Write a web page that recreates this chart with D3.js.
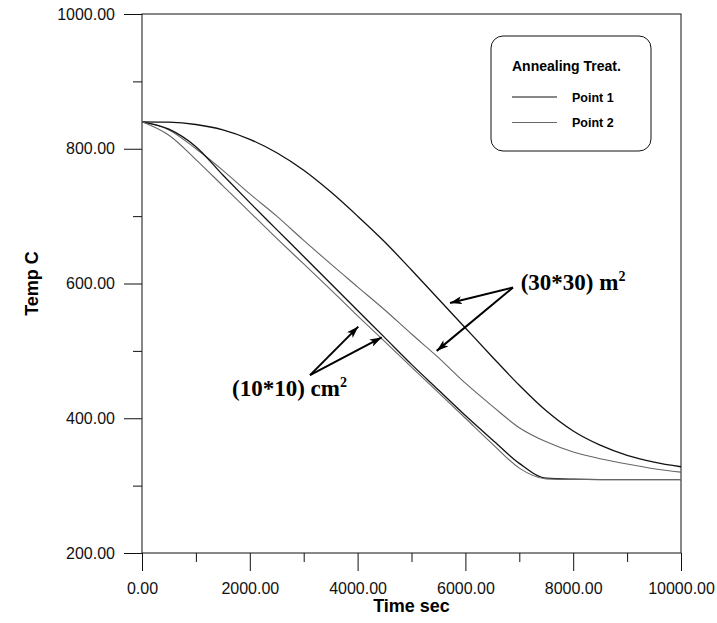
<!DOCTYPE html>
<html>
<head>
<meta charset="utf-8">
<script src="https://cdn.jsdelivr.net/npm/d3@7"></script>
<style>
  body { margin: 0; background: #fff; }
  text { font-family: "Liberation Sans", Arial, sans-serif; }
</style>
</head>
<body>
<div id="chart"></div>
<script>
// time in seconds, temperature in C
var times = [0, 500, 1000, 1500, 2000, 2500, 3000, 3500, 4000, 4500, 5000,
             5500, 6000, 6500, 7000, 7500, 8000, 8500, 9000, 9500, 10000];
// (30*30) m2 block
var big_p1 = [840, 839.5, 836, 828, 814, 794, 768, 736, 700, 662, 620,
              577, 534, 491, 449, 411, 381, 360, 345, 335, 328];
var big_p2 = [840, 828, 800, 768, 733, 700, 664, 629, 595, 561, 525,
              490, 452, 418, 386, 365, 350, 340, 332, 325, 320];
// (10*10) cm2 block
var small_p1 = [840, 829, 803, 761, 720, 680, 640, 600, 560, 520, 480,
                442, 404, 368, 333, 311, 309.5, 309, 309, 309, 309];
var small_p2 = [840, 820, 784, 745, 706, 667, 629, 591, 552, 514, 476,
                438, 400, 362, 326, 310, 309, 309, 309, 309, 309];

var xTicks = [0, 2000, 4000, 6000, 8000, 10000];
var yTicks = [200, 400, 600, 800, 1000];
var legendNames = ["Point 1", "Point 2"];

var width = 717, height = 623;
var plotL = 142, plotR = 681, plotT = 14, plotB = 553;

var x = d3.scaleLinear().domain([0, 10000]).range([plotL, plotR]);
var y = d3.scaleLinear().domain([200, 1000]).range([plotB, plotT]);

var svg = d3.select("#chart").append("svg")
    .attr("width", width).attr("height", height);

svg.append("rect").attr("width", width).attr("height", height).attr("fill", "#fff");

// frame
svg.append("rect")
    .attr("x", plotL).attr("y", plotT)
    .attr("width", plotR - plotL).attr("height", plotB - plotT)
    .attr("fill", "none").attr("stroke", "#111").attr("stroke-width", 1);

var fmt = d3.format(".2f");

// y axis, major + minor ticks
svg.append("g").attr("transform", "translate(" + plotL + ",0)")
    .call(d3.axisLeft(y).tickValues(yTicks).tickSize(18).tickPadding(9).tickFormat(fmt));
svg.append("g").attr("transform", "translate(" + plotL + ",0)")
    .call(d3.axisLeft(y).tickValues([300, 500, 700, 900]).tickSize(9).tickFormat(""));

svg.append("g").attr("transform", "translate(0," + plotB + ")")
    .call(d3.axisBottom(x).tickValues(xTicks).tickSize(18).tickPadding(12).tickFormat(fmt));
svg.append("g").attr("transform", "translate(0," + plotB + ")")
    .call(d3.axisBottom(x).tickValues([1000, 3000, 5000, 7000, 9000]).tickSize(9).tickFormat(""));

svg.selectAll(".domain").remove();
svg.selectAll(".tick line").attr("stroke", "#111");
svg.selectAll(".tick text")
    .attr("fill", "#111")
    .style("font-family", "'Liberation Sans', Arial, sans-serif")
    .style("font-size", "16px");

// axis titles
svg.append("text")
    .attr("x", (plotL + plotR) / 2).attr("y", 612)
    .attr("text-anchor", "middle")
    .style("font-weight", "bold").style("font-size", "18px")
    .text("Time sec");
svg.append("text")
    .attr("transform", "translate(38," + (plotT + plotB) / 2 + ") rotate(-90)")
    .attr("text-anchor", "middle")
    .style("font-weight", "bold").style("font-size", "18px")
    .text("Temp C");

// curves
var series = [
    {vals: big_p1, color: "#111", w: 1.3},
    {vals: big_p2, color: "#666", w: 1.1},
    {vals: small_p1, color: "#111", w: 1.3},
    {vals: small_p2, color: "#666", w: 1.1}
];
var line = d3.line()
    .x(function (d) { return x(d[0]); })
    .y(function (d) { return y(d[1]); })
    .curve(d3.curveMonotoneX);

svg.selectAll("path.curve").data(series).enter().append("path")
    .attr("class", "curve")
    .attr("fill", "none")
    .attr("stroke", function (d) { return d.color; })
    .attr("stroke-width", function (d) { return d.w; })
    .attr("d", function (d) {
        return line(times.map(function (t, i) { return [t, d.vals[i]]; }));
    });

// legend
var lg = svg.append("g");
lg.append("rect")
    .attr("x", 491).attr("y", 36).attr("width", 160).attr("height", 115)
    .attr("rx", 12).attr("ry", 12)
    .attr("fill", "#fff").attr("stroke", "#111").attr("stroke-width", 1);
lg.append("text")
    .attr("x", 512).attr("y", 71)
    .style("font-weight", "bold").style("font-size", "14px")
    .text("Annealing Treat.");
legendNames.forEach(function (name, i) {
    var ly = 97 + i * 25.5;
    lg.append("line")
        .attr("x1", 512).attr("x2", 557).attr("y1", ly).attr("y2", ly)
        .attr("stroke", series[i].color).attr("stroke-width", i ? 1 : 1.1);
    lg.append("text")
        .attr("x", 572).attr("y", ly + 4.5)
        .style("font-weight", "bold").style("font-size", "12.5px")
        .text(name);
});

// annotations with arrows
svg.append("defs").append("marker")
    .attr("id", "head")
    .attr("viewBox", "0 0 12 8")
    .attr("refX", 12).attr("refY", 4)
    .attr("markerWidth", 12).attr("markerHeight", 8)
    .attr("markerUnits", "userSpaceOnUse")
    .attr("orient", "auto")
    .append("path").attr("d", "M0,0 L12,4 L0,8 L3,4 Z").attr("fill", "#000");

var notes = [
    {label: "(30*30) m", tx: 7026, ty: 590, from: [6883, 594], to: [[5714, 571], [5467, 500]]},
    {label: "(10*10) cm", tx: 1670, ty: 433, from: [3117, 464], to: [[4013, 536], [4447, 520]]}
];
notes.forEach(function (n) {
    n.to.forEach(function (p) {
        svg.append("line")
            .attr("x1", x(n.from[0])).attr("y1", y(n.from[1]))
            .attr("x2", x(p[0])).attr("y2", y(p[1]))
            .attr("stroke", "#000").attr("stroke-width", 2)
            .attr("marker-end", "url(#head)");
    });
    var t = svg.append("text")
        .attr("x", x(n.tx)).attr("y", y(n.ty))
        .style("font-family", "'Liberation Serif', 'Times New Roman', serif")
        .style("font-weight", "bold").style("font-size", "23px")
        .text(n.label);
    t.append("tspan")
        .attr("dy", -9).style("font-size", "14px")
        .text("2");
});
</script>
</body>
</html>
